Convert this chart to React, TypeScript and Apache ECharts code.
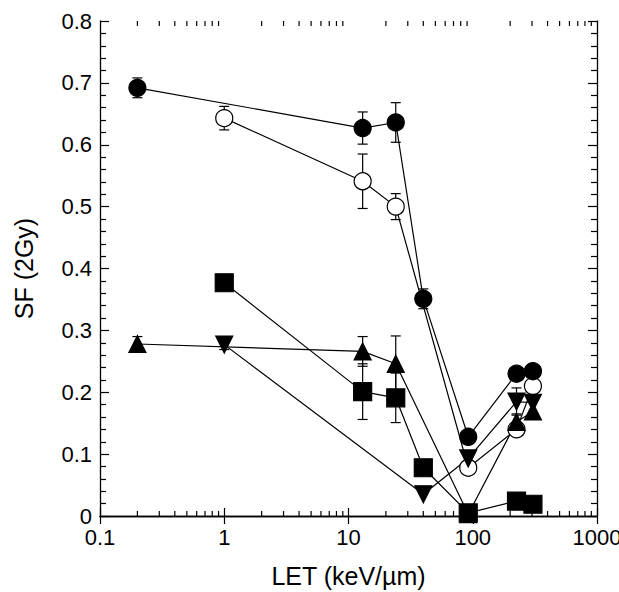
import React, { useEffect, useRef } from "react";
import * as echarts from "echarts";

// LET (keV/µm) and SF(2Gy) per series
const letFilledCircle = [0.2, 13, 24, 40, 92, 225, 305];
const sfFilledCircle = [0.692, 0.627, 0.636, 0.351, 0.128, 0.23, 0.234];
const errFilledCircle = [0.016, 0.026, 0.032, 0.016, 0, 0, 0];

const letOpenCircle = [1, 13, 24, 92, 225, 305];
const sfOpenCircle = [0.643, 0.541, 0.5, 0.078, 0.14, 0.21];
const errOpenCircle = [0.019, 0.044, 0.021, 0, 0, 0];

const letUpTriangle = [0.2, 13, 24, 92, 225, 305];
const sfUpTriangle = [0.278, 0.266, 0.246, 0.003, 0.152, 0.169];
const errUpTriangle = [0.012, 0.024, 0.045, 0, 0.013, 0];

const letDownTriangle = [1, 40, 92, 225, 305];
const sfDownTriangle = [0.277, 0.035, 0.093, 0.185, 0.183];
const errDownTriangle = [0.008, 0, 0, 0.022, 0];

const letSquare = [1, 13, 24, 40, 92, 225, 305];
const sfSquare = [0.377, 0.201, 0.191, 0.078, 0.005, 0.024, 0.019];
const errSquare = [0, 0.045, 0.04, 0, 0, 0, 0];

const xMinorTicks = [
  0.2, 0.3, 0.4, 0.5, 0.6, 0.7, 0.8, 0.9,
  2, 3, 4, 5, 6, 7, 8, 9,
  20, 30, 40, 50, 60, 70, 80, 90,
  200, 300, 400, 500, 600, 700, 800, 900,
];

const FONT = "'Liberation Sans', Arial, Helvetica, sans-serif";

function pairs(xs: number[], ys: number[]) {
  return xs.map((x, i) => [x, ys[i]]);
}

function errRows(xs: number[], ys: number[], es: number[]) {
  const rows: number[][] = [];
  xs.forEach((x, i) => {
    if (es[i] > 0) rows.push([x, ys[i] - es[i], ys[i] + es[i]]);
  });
  return rows;
}

export default function App() {
  const ref = useRef<HTMLDivElement>(null);
  useEffect(() => {
    document.body.style.margin = "0";
    if (!ref.current) return;
    const chart = echarts.init(ref.current, undefined, { renderer: "svg" });

    const errData = [
      ...errRows(letFilledCircle, sfFilledCircle, errFilledCircle),
      ...errRows(letOpenCircle, sfOpenCircle, errOpenCircle),
      ...errRows(letUpTriangle, sfUpTriangle, errUpTriangle),
      ...errRows(letDownTriangle, sfDownTriangle, errDownTriangle),
      ...errRows(letSquare, sfSquare, errSquare),
    ];

    const lineStyle = { color: "#000", width: 1.2 };
    const baseSeries = (data: number[][], symbol: string, filled: boolean, size: number, rotate = 0) => ({
      type: "line",
      data,
      symbol,
      symbolSize: size,
      symbolRotate: rotate,
      showAllSymbol: true,
      lineStyle,
      itemStyle: {
        color: filled ? "#000" : "#fff",
        borderColor: "#000",
        borderWidth: 1.2,
      },
      z: 3,
      clip: false,
    });

    const axisCommonX = {
      type: "log",
      logBase: 10,
      min: 0.1,
      max: 1000,
      axisLine: { show: true, lineStyle: { color: "#000", width: 1.3 } },
      axisTick: { show: true, inside: true, length: 8, lineStyle: { color: "#000", width: 1.2 } },
      splitLine: { show: false },
      minorTick: { show: false },
    };
    const axisCommonY = {
      type: "value",
      min: 0,
      max: 0.8,
      interval: 0.1,
      axisLine: { show: true, lineStyle: { color: "#000", width: 1.3 } },
      axisTick: { show: true, inside: true, length: 9, lineStyle: { color: "#000", width: 1.2 } },
      minorTick: { show: true, splitNumber: 5, length: 6, lineStyle: { color: "#000", width: 1.2 } },
      splitLine: { show: false },
    };

    chart.setOption({
      animation: false,
      backgroundColor: "#fff",
      grid: { left: 100, right: 22, top: 21, bottom: 76, containLabel: false, outerBoundsMode: "none" },
      xAxis: [
        {
          ...axisCommonX,
          position: "bottom",
          name: "LET (keV/\u00b5m)",
          nameLocation: "middle",
          nameGap: 47,
          nameTextStyle: { fontFamily: FONT, fontSize: 25, color: "#000" },
          axisLabel: {
            fontFamily: FONT,
            fontSize: 22,
            color: "#000",
            margin: 10,
            hideOverlap: false,
            showMaxLabel: true,
            formatter: (v: number) => String(v),
          },
        },
        {
          ...axisCommonX,
          position: "top",
          axisLabel: { show: false },
        },
      ],
      yAxis: [
        {
          ...axisCommonY,
          position: "left",
          name: "SF (2Gy)",
          nameLocation: "middle",
          nameGap: 64,
          nameTextStyle: { fontFamily: FONT, fontSize: 25, color: "#000" },
          axisLabel: { fontFamily: FONT, fontSize: 22, color: "#000", margin: 8 },
        },
        {
          ...axisCommonY,
          position: "right",
          axisLabel: { show: false },
        },
      ],
      series: [
        {
          type: "custom",
          xAxisIndex: 0,
          yAxisIndex: 0,
          data: xMinorTicks.map((v) => [v, 0]),
          encode: { x: 0, y: 1 },
          silent: true,
          z: 1,
          clip: false,
          renderItem: (params: any, api: any) => {
            const v = api.value(0);
            const b = api.coord([v, 0]);
            const t = api.coord([v, 0.8]);
            const st = { stroke: "#000", lineWidth: 1.2 };
            return {
              type: "group",
              children: [
                { type: "line", shape: { x1: b[0], y1: b[1], x2: b[0], y2: b[1] - 5 }, style: st },
                { type: "line", shape: { x1: t[0], y1: t[1], x2: t[0], y2: t[1] + 5 }, style: st },
              ],
            };
          },
        },
        {
          type: "custom",
          xAxisIndex: 0,
          yAxisIndex: 0,
          data: errData,
          encode: { x: 0, y: [1, 2] },
          silent: true,
          z: 2,
          clip: false,
          renderItem: (params: any, api: any) => {
            const x = api.value(0);
            const lo = api.coord([x, api.value(1)]);
            const hi = api.coord([x, api.value(2)]);
            const w = 5;
            const st = { stroke: "#000", lineWidth: 1.2 };
            return {
              type: "group",
              children: [
                { type: "line", shape: { x1: lo[0], y1: lo[1], x2: hi[0], y2: hi[1] }, style: st },
                { type: "line", shape: { x1: lo[0] - w, y1: lo[1], x2: lo[0] + w, y2: lo[1] }, style: st },
                { type: "line", shape: { x1: hi[0] - w, y1: hi[1], x2: hi[0] + w, y2: hi[1] }, style: st },
              ],
            };
          },
        },
        baseSeries(pairs(letOpenCircle, sfOpenCircle), "circle", false, 17),
        baseSeries(pairs(letUpTriangle, sfUpTriangle), "triangle", true, 17),
        baseSeries(pairs(letSquare, sfSquare), "rect", true, 18),
        baseSeries(pairs(letDownTriangle, sfDownTriangle), "triangle", true, 17, 180),
        baseSeries(pairs(letFilledCircle, sfFilledCircle), "circle", true, 17),
      ],
    });
    return () => chart.dispose();
  }, []);
  return <div ref={ref} style={{ width: 619, height: 592 }} />;
}
